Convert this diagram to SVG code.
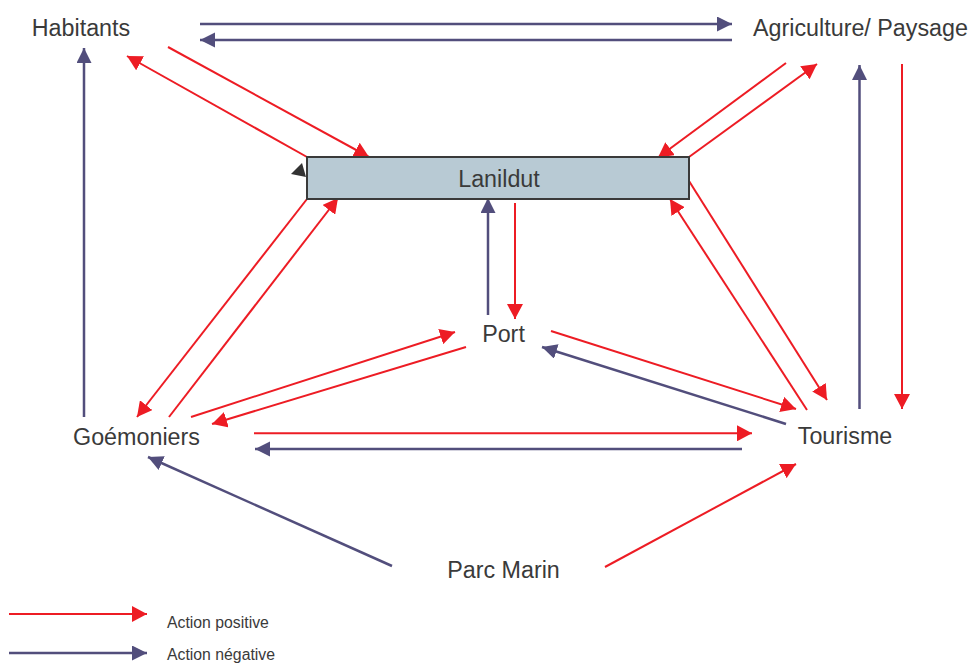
<svg xmlns="http://www.w3.org/2000/svg" width="975" height="664" viewBox="0 0 975 664">
<defs>
<marker id="ar" markerUnits="userSpaceOnUse" markerWidth="16" markerHeight="16" refX="15" refY="8" orient="auto"><path d="M0,0 L15,8 L0,16 z" fill="#ed1c24"/></marker>
<marker id="an" markerUnits="userSpaceOnUse" markerWidth="16" markerHeight="16" refX="15" refY="7.5" orient="auto"><path d="M0,0 L15,7.5 L0,15 z" fill="#524e7c"/></marker>
</defs>
<style>
.lbl{font-family:"Liberation Sans",Arial,sans-serif;font-size:23.3px;fill:#3a3a3a;text-anchor:middle}
.leg{font-family:"Liberation Sans",Arial,sans-serif;font-size:15.8px;fill:#3a3a3a}
.r{stroke:#ed1c24;stroke-width:2;fill:none;marker-end:url(#ar)}
.n{stroke:#524e7c;stroke-width:2.5;fill:none;marker-end:url(#an)}
</style>
<rect width="975" height="664" fill="#ffffff"/>
<g id="connectors">
<line class="n" x1="200" y1="24" x2="732" y2="24"/>
<line class="n" x1="732" y1="40" x2="200" y2="40"/>
<line class="n" x1="84" y1="417" x2="84" y2="48"/>
<line class="r" x1="307" y1="157" x2="127" y2="56"/>
<line class="r" x1="168" y1="47" x2="369" y2="157"/>
<line class="r" x1="786" y1="63" x2="658" y2="157.5"/>
<line class="r" x1="689" y1="157" x2="817" y2="64"/>
<line class="n" x1="859.5" y1="409" x2="859.5" y2="65"/>
<line class="r" x1="902" y1="64" x2="902" y2="409"/>
<line class="r" x1="689" y1="181" x2="827" y2="400"/>
<line class="r" x1="807" y1="410" x2="670" y2="199"/>
<line class="n" x1="488" y1="315" x2="488" y2="198"/>
<line class="r" x1="515" y1="203" x2="515" y2="319"/>
<line class="r" x1="307" y1="199" x2="137" y2="417"/>
<line class="r" x1="169" y1="417" x2="338" y2="198"/>
<line class="r" x1="191" y1="417" x2="455" y2="332"/>
<line class="r" x1="466" y1="347" x2="212" y2="424"/>
<line class="r" x1="551" y1="331" x2="796" y2="409"/>
<line class="n" x1="786" y1="424" x2="542" y2="347"/>
<line class="r" x1="254" y1="433.3" x2="752" y2="433.3"/>
<line class="n" x1="742" y1="449" x2="255" y2="449"/>
<line class="n" x1="392" y1="566" x2="148" y2="457"/>
<line class="r" x1="605" y1="567" x2="796" y2="464"/>
<polygon points="291,174 302,163 306,177" fill="#333333"/>
</g>
<g id="node-lanildut">
<rect x="307" y="157" width="382" height="42" fill="#b8cad4" stroke="#3a3a3a" stroke-width="2"/>
<text class="lbl" x="499" y="187">Lanildut</text>
</g>
<g id="node-habitants"><text class="lbl" x="81" y="36">Habitants</text></g>
<g id="node-agriculture"><text class="lbl" x="860.5" y="36">Agriculture/ Paysage</text></g>
<g id="node-port"><text class="lbl" x="503.5" y="342">Port</text></g>
<g id="node-goemoniers"><text class="lbl" x="136.5" y="445">Goémoniers</text></g>
<g id="node-tourisme"><text class="lbl" x="845" y="444">Tourisme</text></g>
<g id="node-parcmarin"><text class="lbl" x="503.5" y="578">Parc Marin</text></g>
<g id="legend">
<line class="r" x1="9" y1="614" x2="147" y2="614"/>
<line class="n" x1="9" y1="653" x2="147" y2="653"/>
<text class="leg" x="167" y="628">Action positive</text>
<text class="leg" x="167" y="660">Action négative</text>
</g>
</svg>
